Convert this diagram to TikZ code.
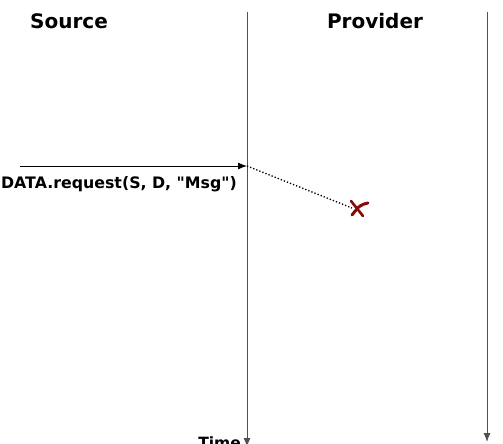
\documentclass[tikz,border=0pt]{standalone}
\usepackage{fontspec}
\setmainfont{DejaVu Sans}[Ligatures=TeXOff]
\usetikzlibrary{arrows.meta}
\definecolor{lifeline}{RGB}{80,80,80}
\definecolor{lostred}{RGB}{135,10,10}
\begin{document}
\begin{tikzpicture}[x=1pt,y=-1pt]
\tikzstyle{every node}+=[inner sep=0pt, font=\bfseries]
\useasboundingbox (0,0) rectangle (503,444);
% lifelines
\coordinate (srctop) at (247,12);
\coordinate (srcend) at (247,447);
\coordinate (prvtop) at (487,12);
\coordinate (prvend) at (487,442);
\draw [lifeline, line width=1pt, -{Latex[length=9pt,width=7pt]}] (srctop) -- (srcend);
\draw [lifeline, line width=1pt, -{Latex[length=9pt,width=7pt]}] (prvtop) -- (prvend);
\draw (69,29) node [anchor=base] (source) {\fontsize{20}{20}\selectfont Source};
\draw (375,29) node [anchor=base] (provider) {\fontsize{20}{20}\selectfont Provider};
\draw (241,448) node [anchor=base east] (time) {\fontsize{15.5}{15.5}\selectfont Time};
% request and lost message
\coordinate (reqstart) at (20,166);
\coordinate (reqend) at (247,166);
\coordinate (lost) at (358,208);
\draw [black, line width=1pt, -{Latex[length=9pt,width=7pt]}] (reqstart) -- (reqend);
\draw (119,188) node [anchor=base] (request) {\fontsize{15.8}{15.8}\selectfont DATA.request(S, D, "Msg")};
\draw [black, dotted, line width=1.3pt] (reqend) -- ([xshift=-6pt]lost);
\draw [lostred, line width=3pt, line cap=round] ([xshift=-6pt,yshift=-7pt]lost) .. controls ([xshift=2pt,yshift=3pt]lost) .. ([xshift=10pt,yshift=5pt]lost);
\draw [lostred, line width=2.6pt, line cap=round] ([xshift=5pt,yshift=-8pt]lost) -- ([xshift=-7pt,yshift=7pt]lost);
\end{tikzpicture}
\end{document}
